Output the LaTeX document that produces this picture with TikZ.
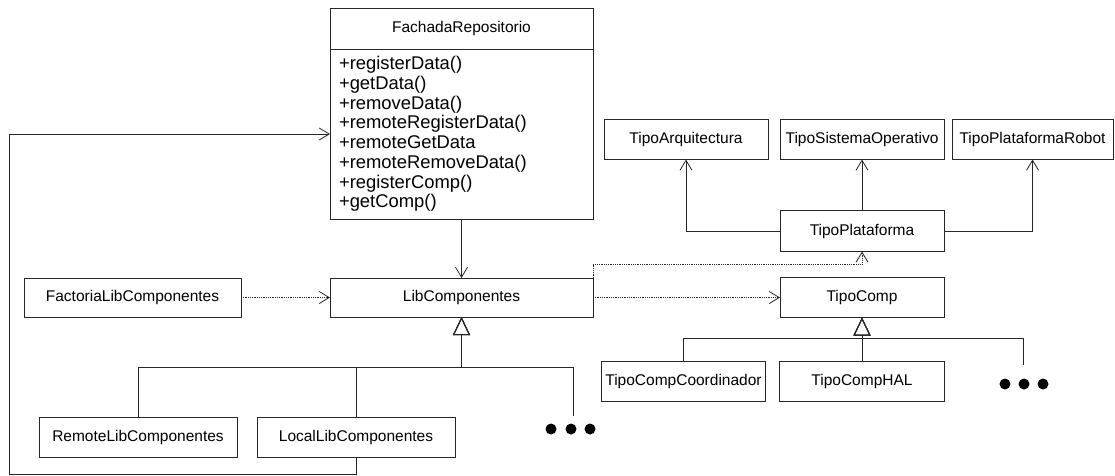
\documentclass[tikz,border=0pt]{standalone}
\usepackage{fontspec}
\setmainfont{Liberation Sans}
\usetikzlibrary{arrows.meta,positioning}

\newcommand\clsfont{\fontsize{15.5pt}{18pt}\selectfont}
\newcommand\opsfont{\fontsize{18.4pt}{19.7pt}\selectfont}

\begin{document}
\begin{tikzpicture}[
    x=1pt, y=-1pt,
    box/.style={draw=black!85, line width=0.9pt, outer sep=0pt, inner sep=2pt,
      minimum height=40pt, minimum width=164pt, font=\clsfont},
    assoc/.style={-{Straight Barb[length=10pt,width=12pt]}, line width=0.8pt, draw=black!85},
    depend/.style={assoc, densely dotted},
    inherit/.style={-{Triangle[open,length=18pt,width=17pt,line width=1pt]}, line width=0.8pt,
      draw=black!85}
  ]
    \useasboundingbox (0,0) rectangle (1115,475);

    % repository facade
    \node[box, minimum width=263pt, minimum height=41pt] (fachadaHead) at (461.5,28.5) {FachadaRepositorio};
    \node[box, below=0pt of fachadaHead, text width=245pt, inner xsep=9pt, minimum height=170pt,
      align=left, font=\opsfont] (fachadaOps) {+registerData()\\
    +getData()\\
    +removeData()\\
    +remoteRegisterData()\\
    +remoteGetData\\
    +remoteRemoveData()\\
    +registerComp()\\
    +getComp()};

    \node[box, below=59pt of fachadaOps, minimum width=263pt, minimum height=39pt] (lib) {LibComponentes};
    \node[box, left=89pt of lib, minimum width=217pt, minimum height=39pt] (factoria) {FactoriaLibComponentes};
    \node[box, minimum width=198pt] (remote) at (138,437) {RemoteLibComponentes};
    \node[box, right=20pt of remote, minimum width=198pt] (local) {LocalLibComponentes};

    % component and platform types
    \node[box, right=187pt of lib] (tcomp) {TipoComp};
    \node[box, above=26pt of tcomp, minimum height=41pt] (plat) {TipoPlataforma};
    \node[box, above=51pt of plat] (sist) {TipoSistemaOperativo};
    \node[box, left=12pt of sist] (arq) {TipoArquitectura};
    \node[box, right=8pt of sist, minimum width=161pt] (robot) {TipoPlataformaRobot};
    \node[box, below=44pt of tcomp, minimum width=165pt] (hal) {TipoCompHAL};
    \node[box, left=14pt of hal] (coord) {TipoCompCoordinador};

    \coordinate (libJoin) at (461.5,367);
    \coordinate (moreLib) at (573,416);
    \coordinate (compJoin) at (862,338);
    \coordinate (moreComp) at (1023,365);
    \coordinate (loopCorner) at (9,474);

    \draw[assoc] (fachadaOps) -- (lib);
    \draw[depend] (factoria) -- (lib);
    \draw[depend] (lib) -- (tcomp);
    \draw[depend] (lib.north east) -- ++(0,-14) -| (plat.south);
    \draw[assoc] (local.south) |- (loopCorner) |- (fachadaOps.west);

    \draw[assoc] (plat) -- (sist);
    \draw[assoc] (plat.west) -| (arq.south);
    \draw[assoc] (plat.east) -| (robot.south);

    \draw[inherit] (remote.north) |- (libJoin) -- (lib.south);
    \draw[inherit] (local.north) |- (libJoin) -- (lib.south);
    \draw[inherit] (moreLib) |- (libJoin) -- (lib.south);
    \draw[inherit] (coord.north) |- (compJoin) -- (tcomp.south);
    \draw[inherit] (hal.north) -- (tcomp.south);
    \draw[inherit] (moreComp) |- (compJoin) -- (tcomp.south);

    % more subclasses
    \foreach \x in {551,571,590} \fill[black] (\x,429) circle (5.5pt);
    \foreach \x in {1005,1024,1043} \fill[black] (\x,384) circle (5.5pt);
  \end{tikzpicture}
\end{document}
